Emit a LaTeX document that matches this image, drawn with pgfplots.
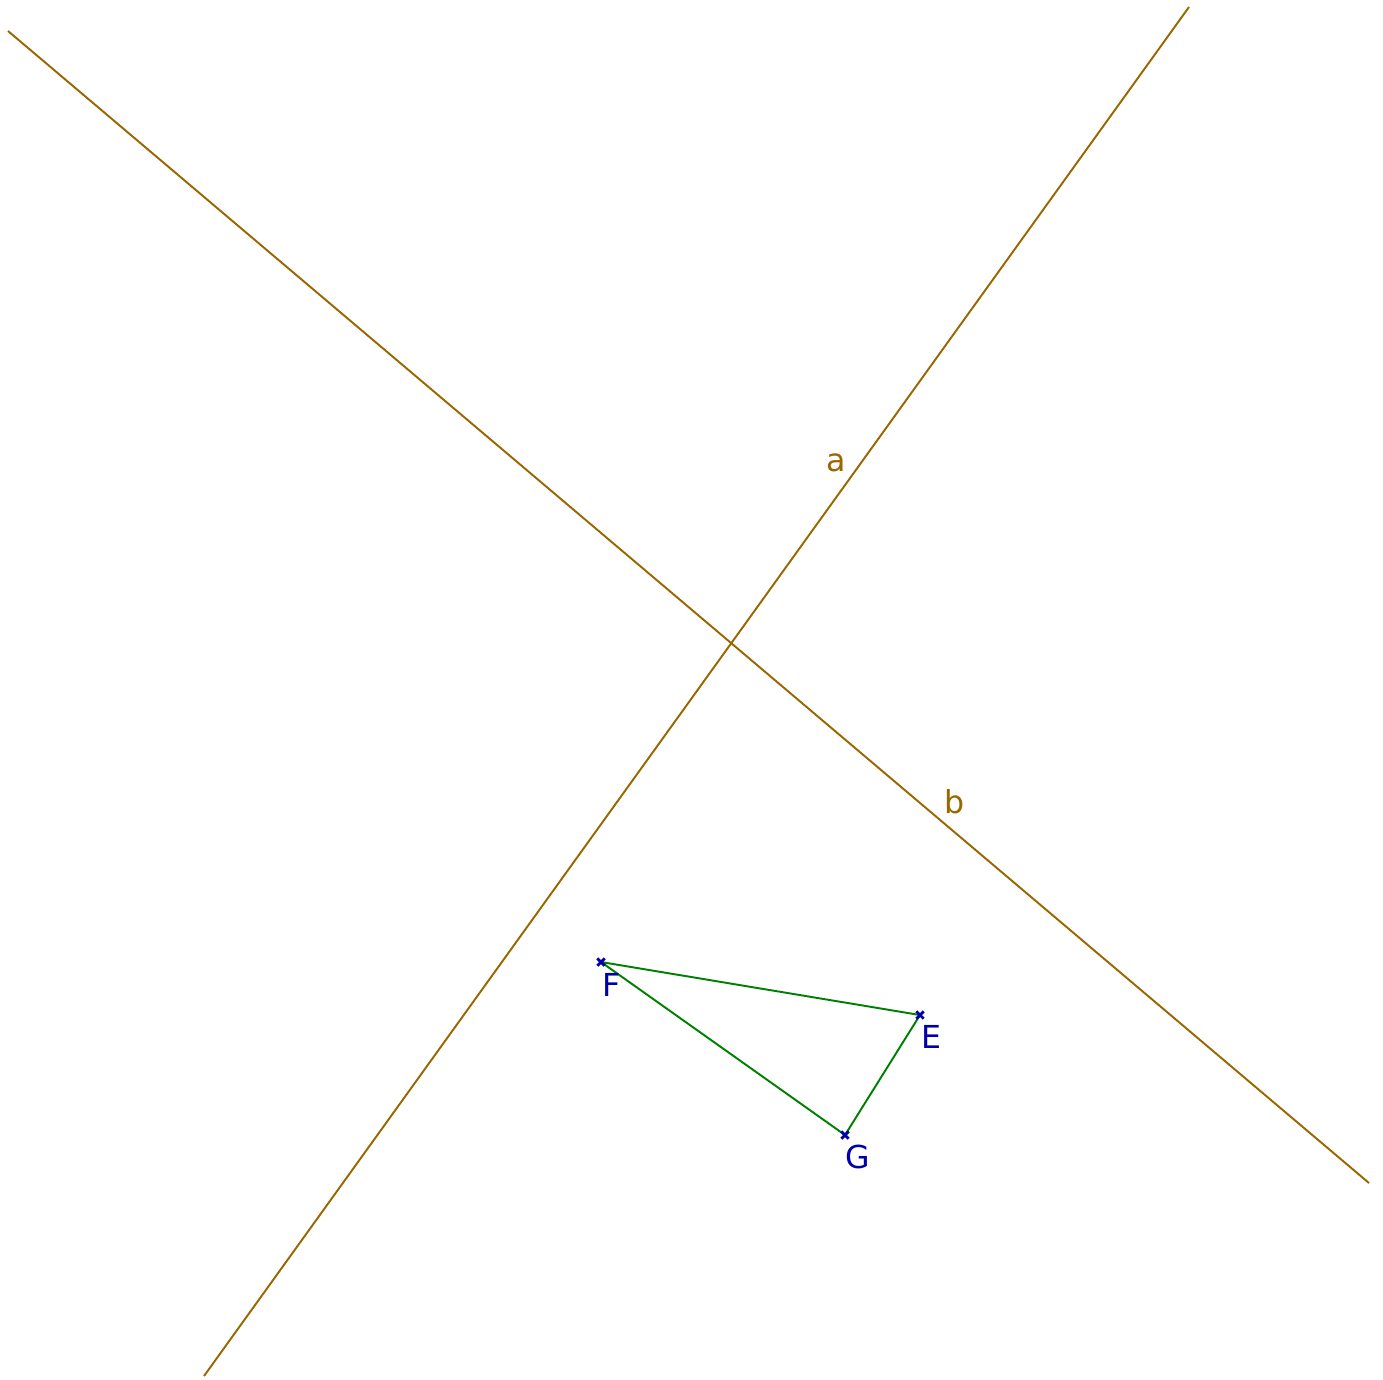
\documentclass[border=0pt]{standalone}
\usepackage{pgfplots}
\pgfplotsset{compat=1.18}
\usepackage{fontspec}
\setmainfont{DejaVu Sans}
\definecolor{linebrown}{RGB}{153,102,0}
\definecolor{ptblue}{RGB}{0,0,170}
\definecolor{trigreen}{RGB}{0,128,0}
\begin{document}
\begin{tikzpicture}
\begin{axis}[
  scale only axis,
  width=13.83cm, height=13.79cm,
  xmin=0, xmax=1383, ymin=0, ymax=1379,
  y dir=reverse,
  hide axis,
  clip=true,
]
% line a
\addplot[linebrown, line width=0.55pt] coordinates {(1189,7) (204,1376)};
% line b
\addplot[linebrown, line width=0.55pt] coordinates {(8,31) (1369,1183)};
% triangle
\addplot[trigreen, line width=0.55pt] coordinates {(601,962) (920,1015) (845,1135) (601,962)};
% points
\addplot[only marks, mark=x, mark size=1.5pt, ptblue, line width=0.8pt] coordinates {(601,962) (920,1015) (845,1135)};
% labels
\node[text=linebrown, font=\fontsize{9}{11}\selectfont] at (axis cs:836,463) {a};
\node[text=linebrown, font=\fontsize{9}{11}\selectfont] at (axis cs:955,802) {b};
\node[text=ptblue, font=\fontsize{9}{11}\selectfont] at (axis cs:612,985) {F};
\node[text=ptblue, font=\fontsize{9}{11}\selectfont] at (axis cs:931,1037) {E};
\node[text=ptblue, font=\fontsize{9}{11}\selectfont] at (axis cs:858,1157) {G};
\end{axis}
\path (current axis.south west) rectangle (current axis.north east);
\end{tikzpicture}
\end{document}
